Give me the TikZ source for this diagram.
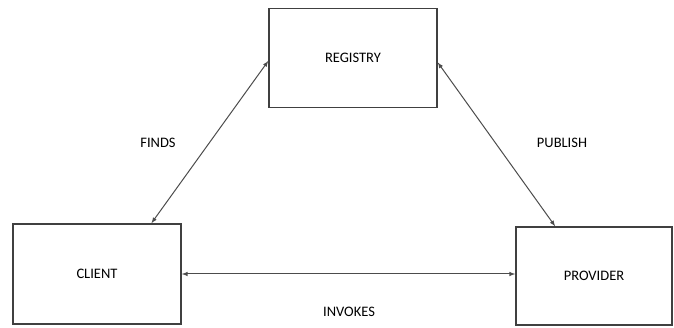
\documentclass[tikz,border=0pt]{standalone}
\usepackage{fontspec}
\setmainfont{Carlito}
\usepackage{tikz}

\begin{document}
\begin{tikzpicture}[x=1pt, y=-1pt]
	\useasboundingbox (0, 0) rectangle (674, 328);
	\tikzset{
		box/.style={draw=black!75, line width=1.5pt, minimum width=#1, inner sep=0pt, font=\fontsize{14.5}{16}\selectfont},
		link/.style={draw=black!70, line width=1pt, >=latex, <->},
		lbl/.style={font=\fontsize{14.5}{16}\selectfont}
	}
	
	\node[box=168pt, minimum height=99pt] (registry) at (353, 58) {REGISTRY};
	\node[box=168pt, minimum height=100pt] (client) at (97, 274) {CLIENT};
	\node[box=156pt, minimum height=98pt] (provider) at (594, 276) {PROVIDER};
	
	\draw[link] (registry.182) -- (client.43) ;
	\node[lbl] (finds) at (158, 143) {FINDS};
	
	\draw[link] (registry.357) -- (provider.128) ;
	\node[lbl] (publish) at (562, 143) {PUBLISH};
	
	\draw[link] (client.east) -- (client.east -| provider.west) ;
	\node[lbl] (invokes) at (349, 312) {INVOKES};
\end{tikzpicture}
\end{document}
